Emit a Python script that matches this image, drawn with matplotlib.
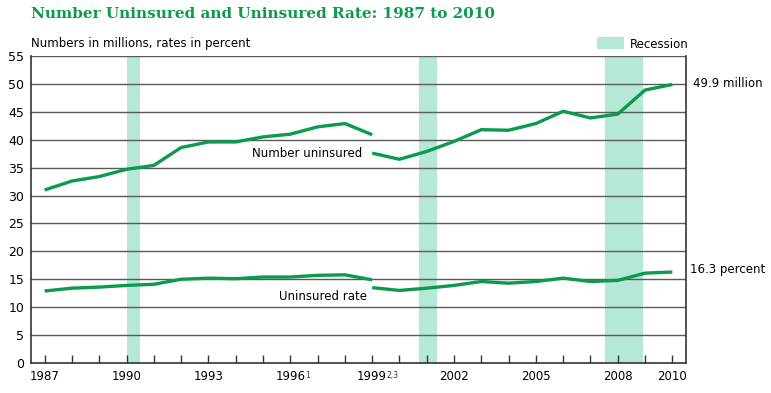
import matplotlib.pyplot as plt
from matplotlib.patches import Rectangle

# ---- data ----
years_old = [1987, 1988, 1989, 1990, 1991, 1992, 1993, 1994, 1995, 1996, 1997, 1998, 1999]
number_old = [31.0, 32.6, 33.4, 34.7, 35.4, 38.6, 39.6, 39.6, 40.5, 41.0, 42.3, 42.9, 40.9]
rate_old = [12.9, 13.4, 13.6, 13.9, 14.1, 15.0, 15.2, 15.1, 15.4, 15.4, 15.7, 15.8, 14.9]

years_new = [1999, 2000, 2001, 2002, 2003, 2004, 2005, 2006, 2007, 2008, 2009, 2010]
number_new = [37.6, 36.5, 37.9, 39.7, 41.8, 41.7, 42.9, 45.1, 43.9, 44.6, 48.9, 49.9]
rate_new = [13.5, 13.0, 13.4, 13.9, 14.6, 14.3, 14.6, 15.2, 14.6, 14.8, 16.1, 16.3]

recessions = [(1990.0, 1990.5), (2000.72, 2001.38), (2007.55, 2008.93)]

tick_years = [1987, 1990, 1993, 1996, 1999, 2002, 2005, 2008, 2010]
tick_notes = ["", "", "", "1", "2,3", "", "", "", ""]

GREEN = "#0c9a4c"
BAND = "#b5e8d6"
GRID = "#5a5a5a"
FS = 8.5

fig = plt.figure(figsize=(7.71, 3.93), dpi=100)
ax = fig.add_axes([31 / 771, 1 - 363 / 393, (686 - 31) / 771, (363 - 56) / 393])

ax.set_xlim(1986.5, 2010.5)
ax.set_ylim(0, 55)

for x0, x1 in recessions:
    ax.axvspan(x0, x1, color=BAND, lw=0, zorder=0)

for y in range(5, 56, 5):
    ax.axhline(y, color=GRID, lw=1.0, zorder=1)

ax.plot(years_old, number_old, color=GREEN, lw=2.4, solid_capstyle="butt", zorder=3)
ax.plot(years_new, number_new, color=GREEN, lw=2.4, solid_capstyle="butt", zorder=3)
ax.plot(years_old, rate_old, color=GREEN, lw=2.4, solid_capstyle="butt", zorder=3)
ax.plot(years_new, rate_new, color=GREEN, lw=2.4, solid_capstyle="butt", zorder=3)

# axes styling
for side in ["left", "bottom", "right"]:
    ax.spines[side].set_color("#333333")
    ax.spines[side].set_linewidth(1.2)
ax.spines["top"].set_visible(False)

ax.set_yticks(range(0, 56, 5))
ax.tick_params(axis="y", length=0, labelsize=FS + 0.5, pad=5)

ax.set_xticks(range(1987, 2011), minor=True)
ax.set_xticks(tick_years)
ax.set_xticklabels([str(y) for y in tick_years])
ax.tick_params(axis="x", which="both", direction="in", length=6, width=1, color="#333333",
               labelsize=FS, pad=5)

# footnote marks hang off the right of the year, year itself stays centred
for yr, note in zip(tick_years, tick_notes):
    if note:
        ax.annotate(note, xy=(yr, 0), xycoords=("data", "axes fraction"),
                    xytext=(10.5, -6), textcoords="offset points",
                    fontsize=5.5, ha="left", va="top", color="#333333")

# labels
ax.text(1996.6, 37.5, "Number uninsured", fontsize=FS, ha="center", va="center")
ax.text(1997.2, 12.0, "Uninsured rate", fontsize=FS, ha="center", va="center")
ax.text(2010.75, 50.0, "49.9 million", fontsize=FS, ha="left", va="center", clip_on=False)
ax.text(2010.65, 16.8, "16.3 percent", fontsize=FS, ha="left", va="center", clip_on=False)

fig.text(31 / 771, 1 - 44 / 393, "Numbers in millions, rates in percent", fontsize=FS,
         ha="left", va="center")
fig.patches.append(Rectangle((597 / 771, 1 - 49 / 393), 27 / 771, 12 / 393,
                             transform=fig.transFigure, color=BAND, lw=0))
fig.text(630 / 771, 1 - 44 / 393, "Recession", fontsize=FS, ha="left", va="center")

fig.text(31 / 771, 1 - 14 / 393, "Number Uninsured and Uninsured Rate: 1987 to 2010",
         fontsize=11, fontweight="bold", family="DejaVu Serif", color=GREEN,
         ha="left", va="center")

fig.savefig("out.png", dpi=100)
